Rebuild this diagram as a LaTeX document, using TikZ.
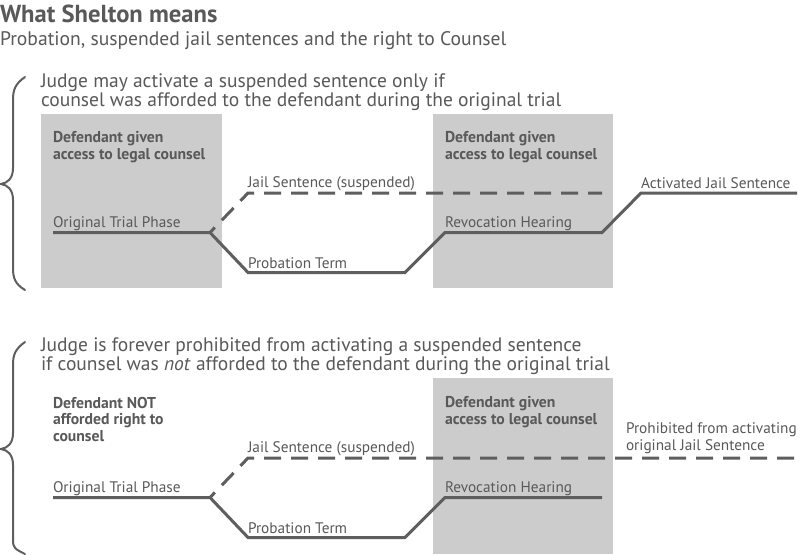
\documentclass[tikz,border=0pt]{standalone}
\usepackage{fontspec}
\setmainfont{PT Sans}
\begin{document}
\begin{tikzpicture}[x=1pt,y=-1pt,
  every node/.style={inner sep=0pt,outer sep=0pt,anchor=base west,text=txt},
  ttl/.style={font=\fontsize{24.6}{26}\selectfont\bfseries},
  sub/.style={font=\fontsize{19.6}{20}\selectfont},
  lead/.style={font=\fontsize{19.5}{18.5}\selectfont,align=left},
  boxtxt/.style={font=\fontsize{15.7}{16.5}\selectfont\bfseries,align=left},
  lbl/.style={font=\fontsize{15.3}{17}\selectfont,align=left},
  phase/.style={fill=boxgray,draw=none},
  track/.style={draw=lin,line width=3pt,line join=miter},
  susp/.style={draw=lin,line width=3pt,dash pattern=on 17pt off 10pt},
  brace/.style={draw=lin,line width=2pt,line cap=round}]
\definecolor{txt}{HTML}{595959}
\definecolor{lin}{HTML}{5E5E5E}
\definecolor{boxgray}{HTML}{CCCCCC}
\useasboundingbox[fill=white] (0,0) rectangle (800,554);

% title
\node[ttl] (title) at (0,22) {What Shelton means};
\node[sub] (subtitle) at (0,45) {Probation, suspended jail sentences and the right to Counsel};

% ===== top section =====
\draw[brace] (25,77) .. controls (15,84) and (13,90) .. (13,100) -- (13,168)
  .. controls (13,178) and (8,183) .. (1,184) .. controls (8,185) and (13,190) .. (13,200)
  -- (13,268) .. controls (13,278) and (15,284) .. (25,290);
\node[lead] (lead1) at (41,106) {Judge may activate a suspended sentence only if\\counsel was afforded to the defendant during the original trial};

\path[phase] (40.5,114) rectangle (221.5,288);
\path[phase] (433,114) rectangle (613,288);
\node[boxtxt] (cA) at (53,159) {Defendant given\\access to legal counsel};
\node[boxtxt] (cB) at (445,159) {Defendant given\\access to legal counsel};

\coordinate (t0) at (53,232.5);
\coordinate (split) at (210,232.5);
\coordinate (p1) at (248,272.5);
\coordinate (p2) at (405,272.5);
\coordinate (r1) at (445,232.5);
\coordinate (r2) at (602,232.5);
\coordinate (a1) at (641,193);
\coordinate (a2) at (797,193);
\coordinate (j1) at (248,193);
\coordinate (j2) at (602,193);

\draw[track] (t0) -- (split) -- (p1) -- (p2) -- (r1) -- (r2) -- (a1) -- (a2);
\draw[susp,dash phase=10pt] (split) -- (j1) -- (j2);

\node[lbl] (otp) at (53,227) {Original Trial Phase};
\node[lbl] (js) at (248,187) {Jail Sentence (suspended)};
\node[lbl] (pt) at (248,268) {Probation Term};
\node[lbl] (rh) at (445,227) {Revocation Hearing};
\node[lbl] (aj) at (641,188) {Activated Jail Sentence};

% ===== bottom section =====
\draw[brace] (25,342) .. controls (15,349) and (13,355) .. (13,365) -- (13,433)
  .. controls (13,443) and (8,448) .. (1,449) .. controls (8,450) and (13,455) .. (13,465)
  -- (13,540) .. controls (13,548) and (15,549) .. (25,554);
\node[lead] (lead2) at (41,370) {Judge is forever prohibited from activating a suspended sentence\\if counsel was \textit{not} afforded to the defendant during the original trial};

\path[phase] (433,378) rectangle (613,554);
\node[boxtxt] (cC) at (53,441) {Defendant NOT\\afforded right to\\counsel};
\node[boxtxt] (cD) at (445,424) {Defendant given\\access to legal counsel};

\coordinate (u0) at (53,497.5);
\coordinate (usplit) at (210,497.5);
\coordinate (q1) at (248,537.5);
\coordinate (q2) at (405,537.5);
\coordinate (s1) at (445,497.5);
\coordinate (s2) at (602,497.5);
\coordinate (k1) at (248,458);
\coordinate (k2) at (800,458);

\draw[track] (u0) -- (usplit) -- (q1) -- (q2) -- (s1) -- (s2);
\draw[susp,dash phase=10pt] (usplit) -- (k1) -- (k2);

\node[lbl] (otp2) at (53,492) {Original Trial Phase};
\node[lbl] (js2) at (248,452) {Jail Sentence (suspended)};
\node[lbl] (pt2) at (248,533) {Probation Term};
\node[lbl] (rh2) at (445,492) {Revocation Hearing};
\node[lbl] (pj) at (626,450) {Prohibited from activating\\original Jail Sentence};
\end{tikzpicture}
\end{document}
